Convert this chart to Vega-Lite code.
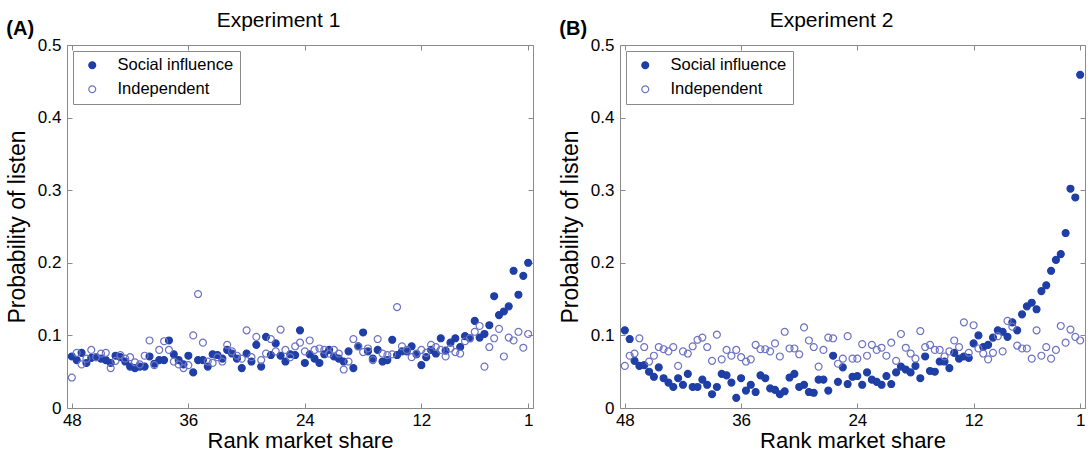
{
"$schema": "https://vega.github.io/schema/vega-lite/v6.json",
"padding": {"left": 5, "top": 9, "right": 5, "bottom": 0},
"spacing": 23,
"config": {
  "font": "Liberation Sans",
  "view": {"stroke": "#8a8a8a", "strokeWidth": 1},
  "axis": {"grid": false, "domain": false, "tickColor": "#8a8a8a", "tickSize": -5, "labelFontSize": 17, "labelColor": "#000", "titleFontSize": 22, "titleFontWeight": "normal", "titleColor": "#000"},
  "legend": {"orient": "top-left", "offset": 6, "padding": 6, "symbolOffset": 5, "strokeColor": "#8a8a8a", "fillColor": "white", "labelFontSize": 16.5, "labelColor": "#000", "symbolSize": 48, "symbolStrokeWidth": 1.2, "labelOffset": 17, "rowPadding": 7, "cornerRadius": 0},
  "title": {"fontSize": 20, "fontWeight": "bold", "anchor": "start", "frame": "bounds", "offset": -29, "color": "#000"}
},
"datasets": {
"A": [
{"series":"Social influence","rank":48,"p":0.071},{"series":"Social influence","rank":47.5,"p":0.066},{"series":"Social influence","rank":47,"p":0.076},{"series":"Social influence","rank":46.5,"p":0.062},{"series":"Social influence","rank":46,"p":0.069},{"series":"Social influence","rank":45.5,"p":0.070},{"series":"Social influence","rank":45,"p":0.068},{"series":"Social influence","rank":44.5,"p":0.066},{"series":"Social influence","rank":44,"p":0.062},{"series":"Social influence","rank":43.5,"p":0.072},{"series":"Social influence","rank":43,"p":0.070},{"series":"Social influence","rank":42.5,"p":0.064},{"series":"Social influence","rank":42,"p":0.057},{"series":"Social influence","rank":41.5,"p":0.055},{"series":"Social influence","rank":41,"p":0.057},{"series":"Social influence","rank":40.5,"p":0.057},{"series":"Social influence","rank":40,"p":0.071},{"series":"Social influence","rank":39.5,"p":0.061},{"series":"Social influence","rank":39,"p":0.066},{"series":"Social influence","rank":38.5,"p":0.066},{"series":"Social influence","rank":38,"p":0.093},{"series":"Social influence","rank":37.5,"p":0.074},{"series":"Social influence","rank":37,"p":0.066},{"series":"Social influence","rank":36.5,"p":0.060},{"series":"Social influence","rank":36,"p":0.072},{"series":"Social influence","rank":35.5,"p":0.049},{"series":"Social influence","rank":35,"p":0.066},{"series":"Social influence","rank":34.5,"p":0.066},{"series":"Social influence","rank":34,"p":0.057},{"series":"Social influence","rank":33.5,"p":0.074},{"series":"Social influence","rank":33,"p":0.073},{"series":"Social influence","rank":32.5,"p":0.068},{"series":"Social influence","rank":32,"p":0.080},{"series":"Social influence","rank":31.5,"p":0.075},{"series":"Social influence","rank":31,"p":0.068},{"series":"Social influence","rank":30.5,"p":0.055},{"series":"Social influence","rank":30,"p":0.075},{"series":"Social influence","rank":29.5,"p":0.064},{"series":"Social influence","rank":29,"p":0.087},{"series":"Social influence","rank":28.5,"p":0.057},{"series":"Social influence","rank":28,"p":0.098},{"series":"Social influence","rank":27.5,"p":0.073},{"series":"Social influence","rank":27,"p":0.089},{"series":"Social influence","rank":26.5,"p":0.072},{"series":"Social influence","rank":26,"p":0.064},{"series":"Social influence","rank":25.5,"p":0.074},{"series":"Social influence","rank":25,"p":0.073},{"series":"Social influence","rank":24.5,"p":0.107},{"series":"Social influence","rank":24,"p":0.062},{"series":"Social influence","rank":23.5,"p":0.074},{"series":"Social influence","rank":23,"p":0.068},{"series":"Social influence","rank":22.5,"p":0.062},{"series":"Social influence","rank":22,"p":0.074},{"series":"Social influence","rank":21.5,"p":0.080},{"series":"Social influence","rank":21,"p":0.071},{"series":"Social influence","rank":20.5,"p":0.068},{"series":"Social influence","rank":20,"p":0.064},{"series":"Social influence","rank":19.5,"p":0.078},{"series":"Social influence","rank":19,"p":0.055},{"series":"Social influence","rank":18.5,"p":0.085},{"series":"Social influence","rank":18,"p":0.104},{"series":"Social influence","rank":17.5,"p":0.078},{"series":"Social influence","rank":17,"p":0.068},{"series":"Social influence","rank":16.5,"p":0.080},{"series":"Social influence","rank":16,"p":0.064},{"series":"Social influence","rank":15.5,"p":0.066},{"series":"Social influence","rank":15,"p":0.094},{"series":"Social influence","rank":14.5,"p":0.073},{"series":"Social influence","rank":14,"p":0.078},{"series":"Social influence","rank":13.5,"p":0.078},{"series":"Social influence","rank":13,"p":0.085},{"series":"Social influence","rank":12.5,"p":0.074},{"series":"Social influence","rank":12,"p":0.059},{"series":"Social influence","rank":11.5,"p":0.070},{"series":"Social influence","rank":11,"p":0.080},{"series":"Social influence","rank":10.5,"p":0.075},{"series":"Social influence","rank":10,"p":0.096},{"series":"Social influence","rank":9.5,"p":0.079},{"series":"Social influence","rank":9,"p":0.090},{"series":"Social influence","rank":8.5,"p":0.096},{"series":"Social influence","rank":8,"p":0.084},{"series":"Social influence","rank":7.5,"p":0.099},{"series":"Social influence","rank":7,"p":0.096},{"series":"Social influence","rank":6.5,"p":0.120},{"series":"Social influence","rank":6,"p":0.097},{"series":"Social influence","rank":5.5,"p":0.102},{"series":"Social influence","rank":5,"p":0.114},{"series":"Social influence","rank":4.5,"p":0.154},{"series":"Social influence","rank":4,"p":0.128},{"series":"Social influence","rank":3.5,"p":0.133},{"series":"Social influence","rank":3,"p":0.140},{"series":"Social influence","rank":2.5,"p":0.189},{"series":"Social influence","rank":2,"p":0.156},{"series":"Social influence","rank":1.5,"p":0.182},{"series":"Social influence","rank":1,"p":0.200},
{"series":"Independent","rank":48,"p":0.042},{"series":"Independent","rank":47.5,"p":0.076},{"series":"Independent","rank":47,"p":0.060},{"series":"Independent","rank":46.5,"p":0.068},{"series":"Independent","rank":46,"p":0.080},{"series":"Independent","rank":45.5,"p":0.070},{"series":"Independent","rank":45,"p":0.075},{"series":"Independent","rank":44.5,"p":0.076},{"series":"Independent","rank":44,"p":0.055},{"series":"Independent","rank":43.5,"p":0.065},{"series":"Independent","rank":43,"p":0.073},{"series":"Independent","rank":42.5,"p":0.068},{"series":"Independent","rank":42,"p":0.070},{"series":"Independent","rank":41.5,"p":0.063},{"series":"Independent","rank":41,"p":0.060},{"series":"Independent","rank":40.5,"p":0.072},{"series":"Independent","rank":40,"p":0.093},{"series":"Independent","rank":39.5,"p":0.059},{"series":"Independent","rank":39,"p":0.080},{"series":"Independent","rank":38.5,"p":0.092},{"series":"Independent","rank":38,"p":0.080},{"series":"Independent","rank":37.5,"p":0.064},{"series":"Independent","rank":37,"p":0.060},{"series":"Independent","rank":36.5,"p":0.055},{"series":"Independent","rank":36,"p":0.059},{"series":"Independent","rank":35.5,"p":0.100},{"series":"Independent","rank":35,"p":0.157},{"series":"Independent","rank":34.5,"p":0.090},{"series":"Independent","rank":34,"p":0.064},{"series":"Independent","rank":33.5,"p":0.062},{"series":"Independent","rank":33,"p":0.070},{"series":"Independent","rank":32.5,"p":0.064},{"series":"Independent","rank":32,"p":0.087},{"series":"Independent","rank":31.5,"p":0.078},{"series":"Independent","rank":31,"p":0.072},{"series":"Independent","rank":30.5,"p":0.068},{"series":"Independent","rank":30,"p":0.107},{"series":"Independent","rank":29.5,"p":0.070},{"series":"Independent","rank":29,"p":0.098},{"series":"Independent","rank":28.5,"p":0.066},{"series":"Independent","rank":28,"p":0.075},{"series":"Independent","rank":27.5,"p":0.095},{"series":"Independent","rank":27,"p":0.078},{"series":"Independent","rank":26.5,"p":0.108},{"series":"Independent","rank":26,"p":0.080},{"series":"Independent","rank":25.5,"p":0.070},{"series":"Independent","rank":25,"p":0.085},{"series":"Independent","rank":24.5,"p":0.090},{"series":"Independent","rank":24,"p":0.078},{"series":"Independent","rank":23.5,"p":0.093},{"series":"Independent","rank":23,"p":0.080},{"series":"Independent","rank":22.5,"p":0.082},{"series":"Independent","rank":22,"p":0.080},{"series":"Independent","rank":21.5,"p":0.075},{"series":"Independent","rank":21,"p":0.080},{"series":"Independent","rank":20.5,"p":0.075},{"series":"Independent","rank":20,"p":0.053},{"series":"Independent","rank":19.5,"p":0.064},{"series":"Independent","rank":19,"p":0.095},{"series":"Independent","rank":18.5,"p":0.085},{"series":"Independent","rank":18,"p":0.077},{"series":"Independent","rank":17.5,"p":0.082},{"series":"Independent","rank":17,"p":0.066},{"series":"Independent","rank":16.5,"p":0.095},{"series":"Independent","rank":16,"p":0.075},{"series":"Independent","rank":15.5,"p":0.073},{"series":"Independent","rank":15,"p":0.074},{"series":"Independent","rank":14.5,"p":0.139},{"series":"Independent","rank":14,"p":0.085},{"series":"Independent","rank":13.5,"p":0.080},{"series":"Independent","rank":13,"p":0.070},{"series":"Independent","rank":12.5,"p":0.075},{"series":"Independent","rank":12,"p":0.080},{"series":"Independent","rank":11.5,"p":0.076},{"series":"Independent","rank":11,"p":0.087},{"series":"Independent","rank":10.5,"p":0.084},{"series":"Independent","rank":10,"p":0.080},{"series":"Independent","rank":9.5,"p":0.071},{"series":"Independent","rank":9,"p":0.082},{"series":"Independent","rank":8.5,"p":0.077},{"series":"Independent","rank":8,"p":0.075},{"series":"Independent","rank":7.5,"p":0.092},{"series":"Independent","rank":7,"p":0.096},{"series":"Independent","rank":6.5,"p":0.105},{"series":"Independent","rank":6,"p":0.113},{"series":"Independent","rank":5.5,"p":0.057},{"series":"Independent","rank":5,"p":0.084},{"series":"Independent","rank":4.5,"p":0.096},{"series":"Independent","rank":4,"p":0.109},{"series":"Independent","rank":3.5,"p":0.071},{"series":"Independent","rank":3,"p":0.097},{"series":"Independent","rank":2.5,"p":0.093},{"series":"Independent","rank":2,"p":0.105},{"series":"Independent","rank":1.5,"p":0.083},{"series":"Independent","rank":1,"p":0.102}
],
"B": [
{"series":"Social influence","rank":48,"p":0.107},{"series":"Social influence","rank":47.5,"p":0.095},{"series":"Social influence","rank":47,"p":0.065},{"series":"Social influence","rank":46.5,"p":0.058},{"series":"Social influence","rank":46,"p":0.059},{"series":"Social influence","rank":45.5,"p":0.050},{"series":"Social influence","rank":45,"p":0.043},{"series":"Social influence","rank":44.5,"p":0.056},{"series":"Social influence","rank":44,"p":0.041},{"series":"Social influence","rank":43.5,"p":0.035},{"series":"Social influence","rank":43,"p":0.029},{"series":"Social influence","rank":42.5,"p":0.041},{"series":"Social influence","rank":42,"p":0.032},{"series":"Social influence","rank":41.5,"p":0.047},{"series":"Social influence","rank":41,"p":0.029},{"series":"Social influence","rank":40.5,"p":0.029},{"series":"Social influence","rank":40,"p":0.039},{"series":"Social influence","rank":39.5,"p":0.032},{"series":"Social influence","rank":39,"p":0.019},{"series":"Social influence","rank":38.5,"p":0.029},{"series":"Social influence","rank":38,"p":0.047},{"series":"Social influence","rank":37.5,"p":0.045},{"series":"Social influence","rank":37,"p":0.035},{"series":"Social influence","rank":36.5,"p":0.014},{"series":"Social influence","rank":36,"p":0.041},{"series":"Social influence","rank":35.5,"p":0.024},{"series":"Social influence","rank":35,"p":0.032},{"series":"Social influence","rank":34.5,"p":0.022},{"series":"Social influence","rank":34,"p":0.045},{"series":"Social influence","rank":33.5,"p":0.041},{"series":"Social influence","rank":33,"p":0.027},{"series":"Social influence","rank":32.5,"p":0.025},{"series":"Social influence","rank":32,"p":0.019},{"series":"Social influence","rank":31.5,"p":0.023},{"series":"Social influence","rank":31,"p":0.042},{"series":"Social influence","rank":30.5,"p":0.047},{"series":"Social influence","rank":30,"p":0.029},{"series":"Social influence","rank":29.5,"p":0.032},{"series":"Social influence","rank":29,"p":0.022},{"series":"Social influence","rank":28.5,"p":0.021},{"series":"Social influence","rank":28,"p":0.039},{"series":"Social influence","rank":27.5,"p":0.039},{"series":"Social influence","rank":27,"p":0.024},{"series":"Social influence","rank":26.5,"p":0.072},{"series":"Social influence","rank":26,"p":0.036},{"series":"Social influence","rank":25.5,"p":0.056},{"series":"Social influence","rank":25,"p":0.033},{"series":"Social influence","rank":24.5,"p":0.043},{"series":"Social influence","rank":24,"p":0.044},{"series":"Social influence","rank":23.5,"p":0.032},{"series":"Social influence","rank":23,"p":0.049},{"series":"Social influence","rank":22.5,"p":0.039},{"series":"Social influence","rank":22,"p":0.036},{"series":"Social influence","rank":21.5,"p":0.032},{"series":"Social influence","rank":21,"p":0.044},{"series":"Social influence","rank":20.5,"p":0.033},{"series":"Social influence","rank":20,"p":0.049},{"series":"Social influence","rank":19.5,"p":0.057},{"series":"Social influence","rank":19,"p":0.053},{"series":"Social influence","rank":18.5,"p":0.049},{"series":"Social influence","rank":18,"p":0.058},{"series":"Social influence","rank":17.5,"p":0.041},{"series":"Social influence","rank":17,"p":0.071},{"series":"Social influence","rank":16.5,"p":0.051},{"series":"Social influence","rank":16,"p":0.050},{"series":"Social influence","rank":15.5,"p":0.064},{"series":"Social influence","rank":15,"p":0.064},{"series":"Social influence","rank":14.5,"p":0.055},{"series":"Social influence","rank":14,"p":0.076},{"series":"Social influence","rank":13.5,"p":0.068},{"series":"Social influence","rank":13,"p":0.071},{"series":"Social influence","rank":12.5,"p":0.069},{"series":"Social influence","rank":12,"p":0.089},{"series":"Social influence","rank":11.5,"p":0.100},{"series":"Social influence","rank":11,"p":0.084},{"series":"Social influence","rank":10.5,"p":0.087},{"series":"Social influence","rank":10,"p":0.097},{"series":"Social influence","rank":9.5,"p":0.107},{"series":"Social influence","rank":9,"p":0.105},{"series":"Social influence","rank":8.5,"p":0.098},{"series":"Social influence","rank":8,"p":0.118},{"series":"Social influence","rank":7.5,"p":0.107},{"series":"Social influence","rank":7,"p":0.129},{"series":"Social influence","rank":6.5,"p":0.140},{"series":"Social influence","rank":6,"p":0.145},{"series":"Social influence","rank":5.5,"p":0.136},{"series":"Social influence","rank":5,"p":0.161},{"series":"Social influence","rank":4.5,"p":0.169},{"series":"Social influence","rank":4,"p":0.189},{"series":"Social influence","rank":3.5,"p":0.204},{"series":"Social influence","rank":3,"p":0.212},{"series":"Social influence","rank":2.5,"p":0.241},{"series":"Social influence","rank":2,"p":0.302},{"series":"Social influence","rank":1.5,"p":0.290},{"series":"Social influence","rank":1,"p":0.459},
{"series":"Independent","rank":48,"p":0.058},{"series":"Independent","rank":47.5,"p":0.072},{"series":"Independent","rank":47,"p":0.075},{"series":"Independent","rank":46.5,"p":0.096},{"series":"Independent","rank":46,"p":0.084},{"series":"Independent","rank":45.5,"p":0.064},{"series":"Independent","rank":45,"p":0.072},{"series":"Independent","rank":44.5,"p":0.084},{"series":"Independent","rank":44,"p":0.081},{"series":"Independent","rank":43.5,"p":0.078},{"series":"Independent","rank":43,"p":0.084},{"series":"Independent","rank":42.5,"p":0.058},{"series":"Independent","rank":42,"p":0.078},{"series":"Independent","rank":41.5,"p":0.075},{"series":"Independent","rank":41,"p":0.085},{"series":"Independent","rank":40.5,"p":0.094},{"series":"Independent","rank":40,"p":0.097},{"series":"Independent","rank":39.5,"p":0.084},{"series":"Independent","rank":39,"p":0.065},{"series":"Independent","rank":38.5,"p":0.101},{"series":"Independent","rank":38,"p":0.067},{"series":"Independent","rank":37.5,"p":0.080},{"series":"Independent","rank":37,"p":0.072},{"series":"Independent","rank":36.5,"p":0.080},{"series":"Independent","rank":36,"p":0.070},{"series":"Independent","rank":35.5,"p":0.064},{"series":"Independent","rank":35,"p":0.067},{"series":"Independent","rank":34.5,"p":0.087},{"series":"Independent","rank":34,"p":0.081},{"series":"Independent","rank":33.5,"p":0.081},{"series":"Independent","rank":33,"p":0.078},{"series":"Independent","rank":32.5,"p":0.089},{"series":"Independent","rank":32,"p":0.071},{"series":"Independent","rank":31.5,"p":0.105},{"series":"Independent","rank":31,"p":0.082},{"series":"Independent","rank":30.5,"p":0.082},{"series":"Independent","rank":30,"p":0.074},{"series":"Independent","rank":29.5,"p":0.111},{"series":"Independent","rank":29,"p":0.093},{"series":"Independent","rank":28.5,"p":0.084},{"series":"Independent","rank":28,"p":0.057},{"series":"Independent","rank":27.5,"p":0.080},{"series":"Independent","rank":27,"p":0.097},{"series":"Independent","rank":26.5,"p":0.096},{"series":"Independent","rank":26,"p":0.061},{"series":"Independent","rank":25.5,"p":0.068},{"series":"Independent","rank":25,"p":0.099},{"series":"Independent","rank":24.5,"p":0.068},{"series":"Independent","rank":24,"p":0.068},{"series":"Independent","rank":23.5,"p":0.088},{"series":"Independent","rank":23,"p":0.072},{"series":"Independent","rank":22.5,"p":0.087},{"series":"Independent","rank":22,"p":0.080},{"series":"Independent","rank":21.5,"p":0.083},{"series":"Independent","rank":21,"p":0.072},{"series":"Independent","rank":20.5,"p":0.090},{"series":"Independent","rank":20,"p":0.065},{"series":"Independent","rank":19.5,"p":0.102},{"series":"Independent","rank":19,"p":0.083},{"series":"Independent","rank":18.5,"p":0.075},{"series":"Independent","rank":18,"p":0.068},{"series":"Independent","rank":17.5,"p":0.106},{"series":"Independent","rank":17,"p":0.084},{"series":"Independent","rank":16.5,"p":0.087},{"series":"Independent","rank":16,"p":0.080},{"series":"Independent","rank":15.5,"p":0.080},{"series":"Independent","rank":15,"p":0.071},{"series":"Independent","rank":14.5,"p":0.078},{"series":"Independent","rank":14,"p":0.093},{"series":"Independent","rank":13.5,"p":0.084},{"series":"Independent","rank":13,"p":0.118},{"series":"Independent","rank":12.5,"p":0.076},{"series":"Independent","rank":12,"p":0.114},{"series":"Independent","rank":11.5,"p":0.082},{"series":"Independent","rank":11,"p":0.075},{"series":"Independent","rank":10.5,"p":0.067},{"series":"Independent","rank":10,"p":0.076},{"series":"Independent","rank":9.5,"p":0.099},{"series":"Independent","rank":9,"p":0.078},{"series":"Independent","rank":8.5,"p":0.120},{"series":"Independent","rank":8,"p":0.112},{"series":"Independent","rank":7.5,"p":0.086},{"series":"Independent","rank":7,"p":0.082},{"series":"Independent","rank":6.5,"p":0.082},{"series":"Independent","rank":6,"p":0.068},{"series":"Independent","rank":5.5,"p":0.107},{"series":"Independent","rank":5,"p":0.072},{"series":"Independent","rank":4.5,"p":0.084},{"series":"Independent","rank":4,"p":0.068},{"series":"Independent","rank":3.5,"p":0.080},{"series":"Independent","rank":3,"p":0.113},{"series":"Independent","rank":2.5,"p":0.090},{"series":"Independent","rank":2,"p":0.108},{"series":"Independent","rank":1.5,"p":0.098},{"series":"Independent","rank":1,"p":0.093}
]
},
"hconcat": [
{
  "data": {"name": "A"},
  "width": 466, "height": 363,
  "title": {"text": "(A)"},
  "layer": [
    {"mark": {"type": "circle", "size": 48, "strokeWidth": 1.2, "opacity": 1},
     "encoding": {
       "x": {"field": "rank", "type": "quantitative", "scale": {"domain": [0.5, 48.5], "reverse": true, "nice": false, "zero": false}, "axis": {"orient": "bottom", "values": [48, 36, 24, 12, 1], "title": "Rank market share", "titlePadding": 2, "labelPadding": 9}},
       "y": {"field": "p", "type": "quantitative", "scale": {"domain": [0, 0.5], "nice": false}, "axis": {"orient": "left", "values": [0, 0.1, 0.2, 0.3, 0.4, 0.5], "labelExpr": "datum.value == 0 ? '0' : format(datum.value, '.1f')", "title": "Probability of listen", "titleFontSize": 23, "titlePadding": 8, "labelPadding": 11}},
       "fill": {"field": "series", "type": "nominal", "scale": {"domain": ["Social influence", "Independent"], "range": ["#1f3fa6", "transparent"]}, "legend": {"title": null}},
       "stroke": {"field": "series", "type": "nominal", "scale": {"domain": ["Social influence", "Independent"], "range": ["#1f3fa6", "#6c72c4"]}, "legend": {"title": null}}
     }},
    {"mark": {"type": "circle", "opacity": 0},
     "encoding": {
       "x": {"field": "rank", "type": "quantitative", "axis": {"orient": "top", "values": [48, 36, 24, 12, 1], "labels": false, "title": "Experiment 1", "titleFontSize": 21, "titlePadding": 14, "titleX": 211}},
       "y": {"field": "p", "type": "quantitative", "axis": {"orient": "right", "values": [0, 0.1, 0.2, 0.3, 0.4, 0.5], "labels": false, "title": null}}
     }}
  ],
  "resolve": {"axis": {"x": "independent", "y": "independent"}}
},
{
  "data": {"name": "B"},
  "width": 465, "height": 363,
  "title": {"text": "(B)"},
  "layer": [
    {"mark": {"type": "circle", "size": 48, "strokeWidth": 1.2, "opacity": 1},
     "encoding": {
       "x": {"field": "rank", "type": "quantitative", "scale": {"domain": [0.5, 48.5], "reverse": true, "nice": false, "zero": false}, "axis": {"orient": "bottom", "values": [48, 36, 24, 12, 1], "title": "Rank market share", "titlePadding": 2, "labelPadding": 9}},
       "y": {"field": "p", "type": "quantitative", "scale": {"domain": [0, 0.5], "nice": false}, "axis": {"orient": "left", "values": [0, 0.1, 0.2, 0.3, 0.4, 0.5], "labelExpr": "datum.value == 0 ? '0' : format(datum.value, '.1f')", "title": "Probability of listen", "titleFontSize": 23, "titlePadding": 8, "labelPadding": 11}},
       "fill": {"field": "series", "type": "nominal", "scale": {"domain": ["Social influence", "Independent"], "range": ["#1f3fa6", "transparent"]}, "legend": {"title": null}},
       "stroke": {"field": "series", "type": "nominal", "scale": {"domain": ["Social influence", "Independent"], "range": ["#1f3fa6", "#6c72c4"]}, "legend": {"title": null}}
     }},
    {"mark": {"type": "circle", "opacity": 0},
     "encoding": {
       "x": {"field": "rank", "type": "quantitative", "axis": {"orient": "top", "values": [48, 36, 24, 12, 1], "labels": false, "title": "Experiment 2", "titleFontSize": 21, "titlePadding": 14, "titleX": 211}},
       "y": {"field": "p", "type": "quantitative", "axis": {"orient": "right", "values": [0, 0.1, 0.2, 0.3, 0.4, 0.5], "labels": false, "title": null}}
     }}
  ],
  "resolve": {"axis": {"x": "independent", "y": "independent"}}
}
],
"resolve": {"scale": {"fill": "independent", "stroke": "independent"}}
}
